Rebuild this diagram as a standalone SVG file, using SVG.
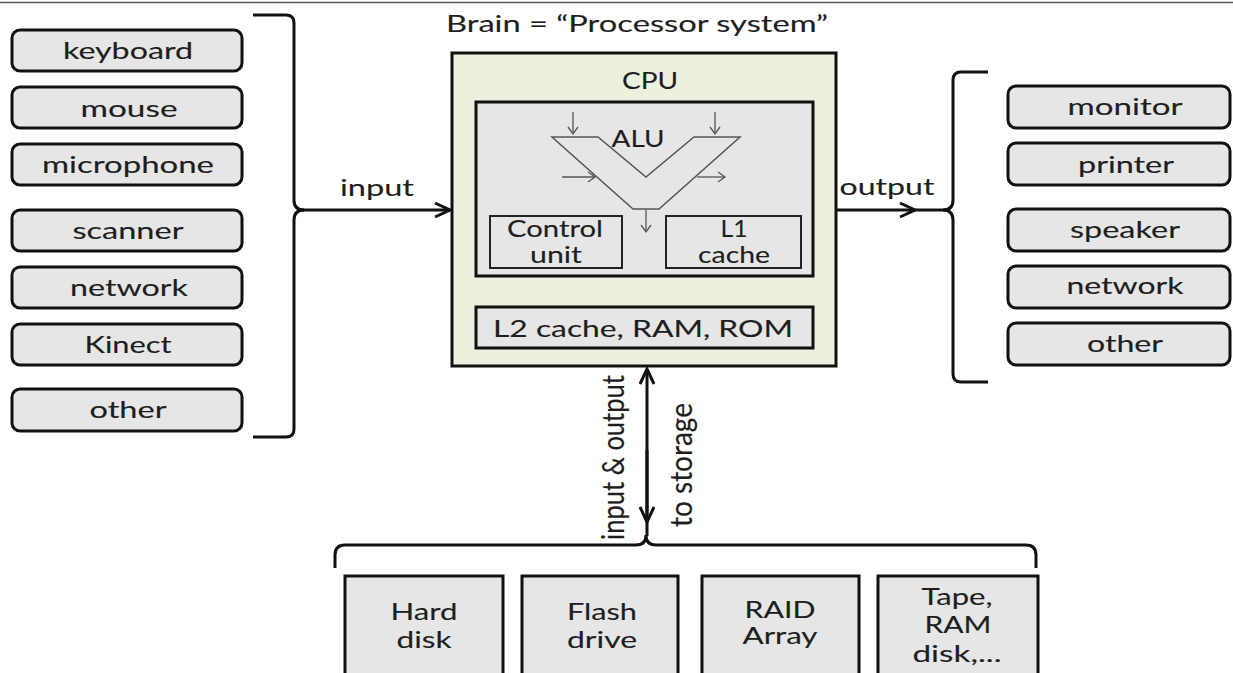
<svg xmlns="http://www.w3.org/2000/svg" width="1233" height="673" viewBox="0 0 1233 673">
<style>
.t{font-family:Lato,"Open Sans","Liberation Sans",sans-serif;font-size:23px;fill:#1e1e1e;stroke:#1e1e1e;stroke-width:0.12;text-anchor:middle}
.bx{fill:#e6e6e6;stroke:#111;stroke-width:3}
.thin{fill:#e6e6e6;stroke:#222;stroke-width:2}
.ln{fill:none;stroke:#111;stroke-width:3}
.sm{fill:none;stroke:#555;stroke-width:1.3}
</style>
<defs>
<marker id="ah" viewBox="-20 -10 22 20" refX="0" refY="0" markerWidth="22" markerHeight="20" markerUnits="userSpaceOnUse" orient="auto"><path d="M-15,-7 L0,0 L-15,7" fill="none" stroke="#111" stroke-width="3"/></marker>
<marker id="as" viewBox="-10 -6 12 12" refX="0" refY="0" markerWidth="12" markerHeight="12" markerUnits="userSpaceOnUse" orient="auto"><path d="M-7,-5 L0,0 L-7,5" fill="none" stroke="#555" stroke-width="1.3"/></marker>
</defs>
<rect width="1233" height="673" fill="#fff"/>
<line x1="0" y1="2.5" x2="1233" y2="2.5" stroke="#555" stroke-width="1.5"/>

<g id="input-devices">
<g id="keyboard"><rect class="bx" x="12" y="30" width="230" height="41" rx="8"/><text class="t" x="128" y="59" textLength="130" lengthAdjust="spacingAndGlyphs">keyboard</text></g>
<g id="mouse"><rect class="bx" x="12" y="87" width="230" height="41" rx="8"/><text class="t" x="129" y="117" textLength="97" lengthAdjust="spacingAndGlyphs">mouse</text></g>
<g id="microphone"><rect class="bx" x="12" y="144" width="230" height="41" rx="8"/><text class="t" x="128" y="173" textLength="172" lengthAdjust="spacingAndGlyphs">microphone</text></g>
<g id="scanner"><rect class="bx" x="12" y="210" width="230" height="41" rx="8"/><text class="t" x="128" y="239" textLength="111" lengthAdjust="spacingAndGlyphs">scanner</text></g>
<g id="network-in"><rect class="bx" x="12" y="267" width="230" height="41" rx="8"/><text class="t" x="129" y="296" textLength="118" lengthAdjust="spacingAndGlyphs">network</text></g>
<g id="kinect"><rect class="bx" x="12" y="324" width="230" height="41" rx="8"/><text class="t" x="128" y="353" textLength="87" lengthAdjust="spacingAndGlyphs">Kinect</text></g>
<g id="other-in"><rect class="bx" x="12" y="389" width="230" height="42" rx="8"/><text class="t" x="128" y="418" textLength="77" lengthAdjust="spacingAndGlyphs">other</text></g>
</g>

<g id="output-devices">
<g id="monitor"><rect class="bx" x="1008" y="86" width="222" height="42" rx="8"/><text class="t" x="1125" y="115" textLength="115" lengthAdjust="spacingAndGlyphs">monitor</text></g>
<g id="printer"><rect class="bx" x="1008" y="143" width="222" height="42" rx="8"/><text class="t" x="1126" y="173" textLength="96" lengthAdjust="spacingAndGlyphs">printer</text></g>
<g id="speaker"><rect class="bx" x="1008" y="209" width="222" height="42" rx="8"/><text class="t" x="1125" y="238" textLength="110" lengthAdjust="spacingAndGlyphs">speaker</text></g>
<g id="network-out"><rect class="bx" x="1008" y="266" width="222" height="42" rx="8"/><text class="t" x="1125" y="294" textLength="117" lengthAdjust="spacingAndGlyphs">network</text></g>
<g id="other-out"><rect class="bx" x="1008" y="323" width="222" height="42" rx="8"/><text class="t" x="1125" y="352" textLength="76" lengthAdjust="spacingAndGlyphs">other</text></g>
</g>

<g id="processor">
<text class="t" x="637" y="32" textLength="382" lengthAdjust="spacingAndGlyphs">Brain = “Processor system”</text>
<rect x="452" y="53" width="384" height="313" fill="#ebf1de" stroke="#111" stroke-width="3"/>
<text class="t" x="650" y="89" textLength="56" lengthAdjust="spacingAndGlyphs">CPU</text>
<g id="cpu-core">
<rect class="bx" x="476" y="102" width="337" height="174"/>
<polygon points="552,137 598,137 646,177 694,137 740,137 659,209 633,209" fill="none" stroke="#555" stroke-width="1.5"/>
<text class="t" x="638" y="147" textLength="53" lengthAdjust="spacingAndGlyphs">ALU</text>
<line class="sm" x1="573" y1="112" x2="573" y2="134" marker-end="url(#as)"/>
<line class="sm" x1="715" y1="112" x2="715" y2="134" marker-end="url(#as)"/>
<line class="sm" x1="562" y1="177" x2="595" y2="177" marker-end="url(#as)"/>
<line class="sm" x1="697" y1="177" x2="725" y2="177" marker-end="url(#as)"/>
<line class="sm" x1="646" y1="210" x2="646" y2="232" marker-end="url(#as)"/>
</g>
<g id="control-unit"><rect class="thin" x="490" y="216" width="132" height="52"/><text class="t" x="555" y="237" textLength="96" lengthAdjust="spacingAndGlyphs">Control</text><text class="t" x="556" y="263" textLength="52" lengthAdjust="spacingAndGlyphs">unit</text></g>
<g id="l1-cache"><rect class="thin" x="666" y="216" width="135" height="52"/><text class="t" x="734" y="237" textLength="27" lengthAdjust="spacingAndGlyphs">L1</text><text class="t" x="734" y="263" textLength="72" lengthAdjust="spacingAndGlyphs">cache</text></g>
<g id="l2-memory"><rect class="bx" x="476" y="307" width="337" height="41"/><text class="t" x="643" y="337" textLength="300" lengthAdjust="spacingAndGlyphs">L2 cache, RAM, ROM</text></g>
</g>

<g id="storage">
<g id="hard-disk"><rect class="bx" x="345" y="576" width="158" height="120"/><text class="t" x="424" y="620" textLength="67" lengthAdjust="spacingAndGlyphs">Hard</text><text class="t" x="424" y="648" textLength="55" lengthAdjust="spacingAndGlyphs">disk</text></g>
<g id="flash-drive"><rect class="bx" x="522" y="576" width="156" height="120"/><text class="t" x="602" y="620" textLength="70" lengthAdjust="spacingAndGlyphs">Flash</text><text class="t" x="602" y="648" textLength="70" lengthAdjust="spacingAndGlyphs">drive</text></g>
<g id="raid-array"><rect class="bx" x="702" y="576" width="157" height="120"/><text class="t" x="780" y="618" textLength="71" lengthAdjust="spacingAndGlyphs">RAID</text><text class="t" x="780" y="644" textLength="75" lengthAdjust="spacingAndGlyphs">Array</text></g>
<g id="tape-ram-disk"><rect class="bx" x="878" y="576" width="160" height="120"/><text class="t" x="957" y="605" textLength="71" lengthAdjust="spacingAndGlyphs">Tape,</text><text class="t" x="958" y="633" textLength="67" lengthAdjust="spacingAndGlyphs">RAM</text><text class="t" x="957" y="662" textLength="89" lengthAdjust="spacingAndGlyphs">disk,...</text></g>
</g>

<g id="connectors">
<path class="ln" d="M253,15 L286,15 Q294,15 294,23 L294,200 Q294,210 304,210 Q294,210 294,220 L294,429 Q294,437 286,437 L253,437"/>
<path class="ln" d="M300,210 L450,210" marker-end="url(#ah)"/>
<text class="t" x="377" y="196" textLength="74" lengthAdjust="spacingAndGlyphs">input</text>
<path class="ln" d="M988,72 L961,72 Q953,72 953,80 L953,200 Q953,210 943,210 Q953,210 953,220 L953,374 Q953,382 961,382 L988,382"/>
<path class="ln" d="M837,210 L915,210" marker-end="url(#ah)"/>
<path class="ln" d="M913,210 L946,210"/>
<text class="t" x="887" y="195" textLength="95" lengthAdjust="spacingAndGlyphs">output</text>
<path class="ln" d="M335,568 L335,555 Q335,545 345,545 L636,545 Q646,545 646,535 Q646,545 656,545 L1026,545 Q1036,545 1036,555 L1036,568"/>
<path class="ln" d="M647,536 L647,369" marker-end="url(#ah)"/>
<path class="ln" d="M647,450 L647,522" marker-end="url(#ah)"/>
<text class="t" style="text-anchor:start" transform="translate(624,540) scale(1.3,1) rotate(-90)" textLength="165" lengthAdjust="spacingAndGlyphs">input &amp; output</text>
<text class="t" style="text-anchor:start" transform="translate(692,527) scale(1.3,1) rotate(-90)" textLength="124" lengthAdjust="spacingAndGlyphs">to storage</text>
</g>
</svg>
